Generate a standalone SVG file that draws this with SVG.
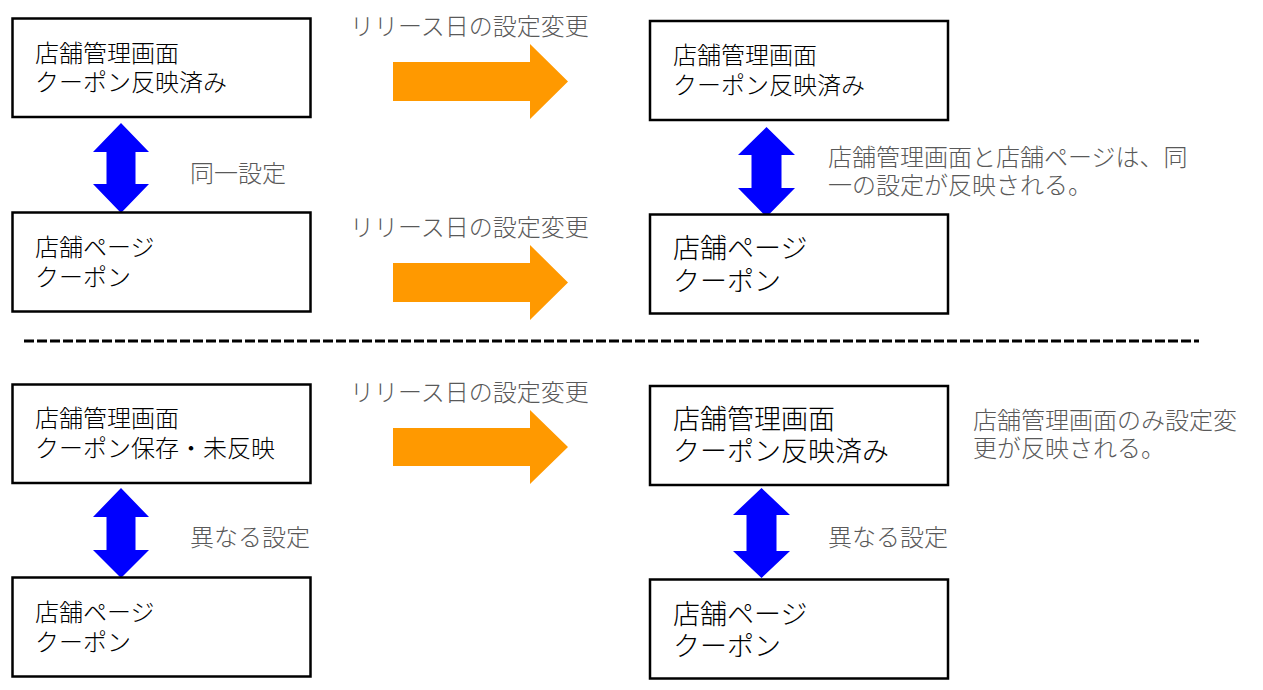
<svg xmlns="http://www.w3.org/2000/svg" width="1263" height="690" viewBox="0 0 1263 690">
<style>
.box{fill:#ffffff;stroke:#000000;stroke-width:2.5}
.t{font-family:"Noto Sans CJK JP","Noto Sans CJK SC",sans-serif;font-size:24px;font-weight:300;fill:#000000}
.tl{font-family:"Noto Sans CJK JP","Noto Sans CJK SC",sans-serif;font-size:27px;font-weight:300;fill:#000000}
.g{font-family:"Noto Sans CJK JP","Noto Sans CJK SC",sans-serif;font-size:24px;font-weight:300;fill:#595959}
.blue{fill:#0000ff}
.orange{fill:#ff9900}
</style>
<rect width="1263" height="690" fill="#ffffff"/>
<g id="connectors">
<polygon class="orange" points="393,62 530,62 530,44 568,81.5 530,119 530,101 393,101"/>
<polygon class="orange" points="393,263 530,263 530,245 568,282.5 530,320 530,302 393,302"/>
<polygon class="orange" points="393,428 530,428 530,410 568,447 530,484 530,466 393,466"/>
<polygon class="blue" points="121,123 149,152 135.5,152 135.5,184 149,184 121,213 93,184 106.5,184 106.5,152 93,152"/>
<polygon class="blue" points="766.5,127 795,155 781.5,155 781.5,188 795,188 766.5,217 738,188 751.5,188 751.5,155 738,155"/>
<polygon class="blue" points="121,488 149,517 135.5,517 135.5,550 149,550 121,578 93,550 106.5,550 106.5,517 93,517"/>
<polygon class="blue" points="761.5,488 790,515 776.5,515 776.5,551 790,551 761.5,578 733,551 746.5,551 746.5,515 733,515"/>
<line x1="24" y1="341" x2="1199" y2="341" stroke="#000000" stroke-width="3" stroke-dasharray="10,3"/>
</g>
<g id="labels">
<text class="g" x="350" y="35">リリース日の設定変更</text>
<text class="g" x="350" y="236">リリース日の設定変更</text>
<text class="g" x="350" y="401">リリース日の設定変更</text>
<text class="g" x="190" y="182">同一設定</text>
<text class="g" x="828" y="166">店舗管理画面と店舗ページは、同</text>
<text class="g" x="828" y="194">一の設定が反映される。</text>
<text class="g" x="973" y="429">店舗管理画面のみ設定変</text>
<text class="g" x="973" y="457">更が反映される。</text>
<text class="g" x="190" y="546">異なる設定</text>
<text class="g" x="828" y="546">異なる設定</text>
</g>
<g id="node-tl1">
<rect class="box" x="12.5" y="18.5" width="298" height="98.5"/>
<text class="t" x="35" y="62">店舗管理画面</text>
<text class="t" x="35" y="91">クーポン反映済み</text>
</g>
<g id="node-tl2">
<rect class="box" x="12.5" y="212.5" width="298" height="99"/>
<text class="t" x="35" y="256">店舗ページ</text>
<text class="t" x="35" y="286">クーポン</text>
</g>
<g id="node-tr1">
<rect class="box" x="650" y="21" width="298" height="99"/>
<text class="t" x="673" y="64">店舗管理画面</text>
<text class="t" x="673" y="94">クーポン反映済み</text>
</g>
<g id="node-tr2">
<rect class="box" x="650" y="214.5" width="298" height="99"/>
<text class="tl" x="673" y="258">店舗ページ</text>
<text class="tl" x="673" y="291">クーポン</text>
</g>
<g id="node-bl1">
<rect class="box" x="12.5" y="384.5" width="298" height="98.5"/>
<text class="t" x="35" y="427">店舗管理画面</text>
<text class="t" x="35" y="457">クーポン保存・未反映</text>
</g>
<g id="node-bl2">
<rect class="box" x="12.5" y="577.5" width="298" height="99"/>
<text class="t" x="35" y="621">店舗ページ</text>
<text class="t" x="35" y="651">クーポン</text>
</g>
<g id="node-br1">
<rect class="box" x="650" y="386" width="298" height="99"/>
<text class="tl" x="673" y="429">店舗管理画面</text>
<text class="tl" x="673" y="461">クーポン反映済み</text>
</g>
<g id="node-br2">
<rect class="box" x="650" y="579.5" width="298" height="99"/>
<text class="tl" x="673" y="624">店舗ページ</text>
<text class="tl" x="673" y="656">クーポン</text>
</g>
</svg>
